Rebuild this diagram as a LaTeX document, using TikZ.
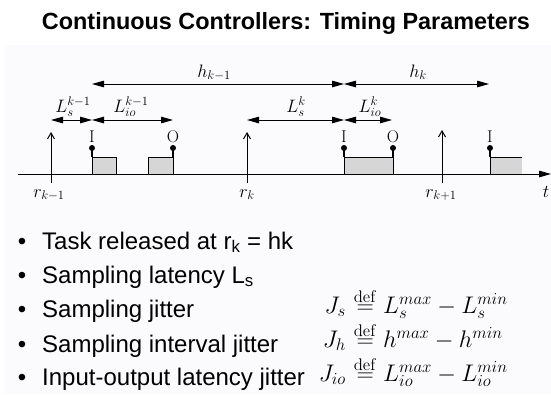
\RequirePackage{fix-cm}
\documentclass[tikz,border=0pt]{standalone}
\usepackage[no-math]{fontspec}
\setmainfont{Liberation Sans}
\usetikzlibrary{arrows.meta}
\definecolor{faint}{RGB}{251,251,254}
\definecolor{jobgray}{RGB}{214,214,214}
\tikzset{
  lab/.style={font=\fontsize{18}{20}\selectfont, inner sep=0pt, anchor=base},
  iolab/.style={font=\fontsize{17}{20}\selectfont, inner sep=0pt, anchor=base},
  dimarrow/.style={{Triangle[length=12pt,width=6.5pt]}-{Triangle[length=12pt,width=6.5pt]}, line width=1pt},
  relarrow/.style={-{Straight Barb[length=6pt,width=7pt]}, line width=1pt},
  axisline/.style={-{Triangle[length=12pt,width=6.5pt]}, line width=1pt},
  jobbox/.style={fill=jobgray, draw=black, line width=1pt},
  marker/.style={circle, fill=black, inner sep=0pt, minimum size=6pt},
  stem/.style={line width=1.2pt},
  bulletmark/.style={font=\fontsize{24}{28}\selectfont, inner sep=0pt, anchor=base},
  bullettext/.style={font=\fontsize{24}{28}\selectfont, inner sep=0pt, anchor=base west},
  formula/.style={font=\fontsize{24}{26}\selectfont, inner sep=0pt},
  titlefont/.style={font=\fontsize{23.4}{26}\selectfont\bfseries, inner sep=0pt, anchor=base},
}
\begin{document}
\begin{tikzpicture}[x=1pt,y=-1pt]
\useasboundingbox (0,0) rectangle (551,394);
\fill[white] (0,0) rectangle (551,394);
\fill[faint] (5,45) rectangle (551,394);

% title
\node[titlefont] (title) at (286,29) {Continuous Controllers: Timing Parameters};

% axis
\coordinate (ax0) at (18,174);
\coordinate (ax1) at (551,174);
\draw[axisline] (ax0) -- (ax1);
\node[lab] (tlab) at (546,197) {$t$};

% release arrows
\coordinate (r1b) at (51,183); \coordinate (r1t) at (51,132);
\coordinate (r2b) at (247,183); \coordinate (r2t) at (247,132);
\coordinate (r3b) at (442,183); \coordinate (r3t) at (442,130);
\draw[relarrow] (r1b) -- (r1t);
\draw[relarrow] (r2b) -- (r2t);
\draw[relarrow] (r3b) -- (r3t);
\node[lab] (r1lab) at (49,197) {$r_{k-1}$};
\node[lab] (r2lab) at (247,197) {$r_k$};
\node[lab] (r3lab) at (441,197) {$r_{k+1}$};

% job boxes
\draw[jobbox] (92,157) rectangle (116,174);
\draw[jobbox] (148,157) rectangle (173,174);
\draw[jobbox] (344,157) rectangle (393,174);
\fill[jobgray] (490,157) rectangle (522,174);
\draw[line width=1pt] (490,174) -- (490,157) -- (522,157);

% I / O markers
\node[marker] (i1) at (92,148) {};
\node[marker] (o1) at (173,148) {};
\node[marker] (i2) at (344,148) {};
\node[marker] (o2) at (393,148) {};
\node[marker] (i3) at (490,148) {};
\coordinate (i1b) at (92,157);
\coordinate (o1b) at (173,157);
\coordinate (i2b) at (344,157);
\coordinate (o2b) at (393,157);
\coordinate (i3b) at (490,157);
\draw[stem] (i1.center) -- (i1b);
\draw[stem] (o1.center) -- (o1b);
\draw[stem] (i2.center) -- (i2b);
\draw[stem] (o2.center) -- (o2b);
\draw[stem] (i3.center) -- (i3b);
\node[iolab] (i1lab) at (92,142) {$\mathrm{I}$};
\node[iolab] (o1lab) at (173,142) {$\mathrm{O}$};
\node[iolab] (i2lab) at (344,142) {$\mathrm{I}$};
\node[iolab] (o2lab) at (393,142) {$\mathrm{O}$};
\node[iolab] (i3lab) at (490,142) {$\mathrm{I}$};

% period arrows
\coordinate (h0) at (92,84);
\coordinate (h1) at (344,84);
\coordinate (h2) at (489,84);
\draw[dimarrow] (h0) -- (h1);
\draw[dimarrow] (h1) -- (h2);
\node[lab] (hk1) at (214,77) {$h_{k-1}$};
\node[lab] (hk) at (418,77) {$h_k$};

% latency arrows
\coordinate (l0) at (51,120);
\coordinate (l1) at (92,120);
\coordinate (l2) at (173,120);
\coordinate (l3) at (247,120);
\coordinate (l4) at (344,120);
\coordinate (l5) at (392,120);
\draw[dimarrow] (l0) -- (l1);
\draw[dimarrow] (l1) -- (l2);
\draw[dimarrow] (l3) -- (l4);
\draw[dimarrow] (l4) -- (l5);
\node[lab] (ls1) at (73,112) {$L_s^{k-1}$};
\node[lab] (lio1) at (131,112) {$L_{io}^{k-1}$};
\node[lab] (ls2) at (296,112) {$L_s^{k}$};
\node[lab] (lio2) at (370,112) {$L_{io}^{k}$};

% bullets
\foreach \n/\y in {1/249,2/283,3/317,4/352,5/385}{
  \node[bulletmark] (b\n) at (22,\y) {•};
}
\node[bullettext] (t1) at (42,249) {Task released at r\textsubscript{k} = hk};
\node[bullettext] (t2) at (42,283) {Sampling latency L\textsubscript{s}};
\node[bullettext] (t3) at (42,317) {Sampling jitter};
\node[bullettext] (t4) at (42,352) {Sampling interval jitter};
\node[bullettext] (t5) at (42,385) {Input-output latency jitter};

% formulas
\node[formula, anchor=base east] (js) at (346,313) {$J_s$};
\node[formula, anchor=base west] (jsr) at (347,313) {${}\stackrel{\mathrm{def}}{=} L_s^{max}-L_s^{min}$};
\node[formula, anchor=base east] (jh) at (346,347) {$J_h$};
\node[formula, anchor=base west] (jhr) at (347,347) {${}\stackrel{\mathrm{def}}{=} h^{max}-h^{min}$};
\node[formula, anchor=base east] (jio) at (346,381) {$J_{io}$};
\node[formula, anchor=base west] (jior) at (347,381) {${}\stackrel{\mathrm{def}}{=} L_{io}^{max}-L_{io}^{min}$};
\end{tikzpicture}
\end{document}
